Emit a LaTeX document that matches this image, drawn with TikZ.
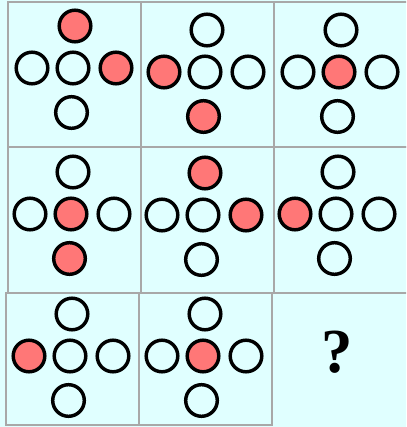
\documentclass[tikz,border=0pt]{standalone}
\usepackage{fontspec}
\setmainfont{Liberation Serif}
\definecolor{bgc}{HTML}{E0FFFF}
\definecolor{gridc}{HTML}{A8A8A8}
\definecolor{redc}{HTML}{FF7777}
\tikzset{
  cellbox/.style={draw=gridc, line width=1.5pt},
  dotw/.style={circle, draw=black, line width=2.6pt, minimum size=31.6*0.75pt, inner sep=0pt},
  dotr/.style={dotw, fill=redc},
}
% pattern macro: #1 name, #2 center x, #3 center y, styles for top,left,center,right,bottom
\newcommand{\crossdots}[8]{%
  \node[#4] (#1t) at (#2+2,#3-42) {};
  \node[#5] (#1l) at (#2-41,#3) {};
  \node[#6] (#1c) at (#2,#3) {};
  \node[#7] (#1r) at (#2+43,#3) {};
  \node[#8] (#1b) at (#2-1.5,#3+44.5) {};
}
\begin{document}
\begin{tikzpicture}[x=0.75pt,y=-0.75pt]
\fill[bgc] (0,0) rectangle (406,427);
\useasboundingbox (0,0) rectangle (406,427);
\begin{scope}
\clip (0,0) rectangle (406,427);
% row 1
\node[cellbox, minimum width=133*0.75pt, minimum height=145*0.75pt, inner sep=0pt, anchor=north west] (c11) at (7,1) {};
\node[cellbox, minimum width=133*0.75pt, minimum height=145*0.75pt, inner sep=0pt, anchor=north west] (c12) at (140,1) {};
\node[cellbox, minimum width=134*0.75pt, minimum height=145*0.75pt, inner sep=0pt, anchor=north west] (c13) at (273,1) {};
% row 2
\node[cellbox, minimum width=133*0.75pt, minimum height=145.5*0.75pt, inner sep=0pt, anchor=north west] (c21) at (7,146) {};
\node[cellbox, minimum width=133*0.75pt, minimum height=145.5*0.75pt, inner sep=0pt, anchor=north west] (c22) at (140,146) {};
\node[cellbox, minimum width=134*0.75pt, minimum height=145.5*0.75pt, inner sep=0pt, anchor=north west] (c23) at (273,146) {};
% row 3
\node[cellbox, minimum width=133*0.75pt, minimum height=131.5*0.75pt, inner sep=0pt, anchor=north west] (c31) at (4.7,292) {};
\node[cellbox, minimum width=133*0.75pt, minimum height=131.5*0.75pt, inner sep=0pt, anchor=north west] (c32) at (137.7,292) {};
\end{scope}
% circles
\crossdots{a}{73}{68}{dotr}{dotw}{dotw}{dotr}{dotw}
\crossdots{b}{205}{72}{dotw}{dotr}{dotw}{dotw}{dotr}
\crossdots{c}{339}{72}{dotw}{dotw}{dotr}{dotw}{dotw}
\crossdots{d}{71}{214}{dotw}{dotw}{dotr}{dotw}{dotr}
\crossdots{e}{203}{215}{dotr}{dotw}{dotw}{dotr}{dotw}
\crossdots{f}{336}{214}{dotw}{dotr}{dotw}{dotw}{dotw}
\crossdots{g}{70}{356}{dotw}{dotr}{dotw}{dotw}{dotw}
\crossdots{h}{203}{356}{dotw}{dotw}{dotr}{dotw}{dotw}
\node[font=\fontsize{47}{47}\selectfont\bfseries, inner sep=0pt] (q) at (337.5,352) {?};
\end{tikzpicture}
\end{document}
